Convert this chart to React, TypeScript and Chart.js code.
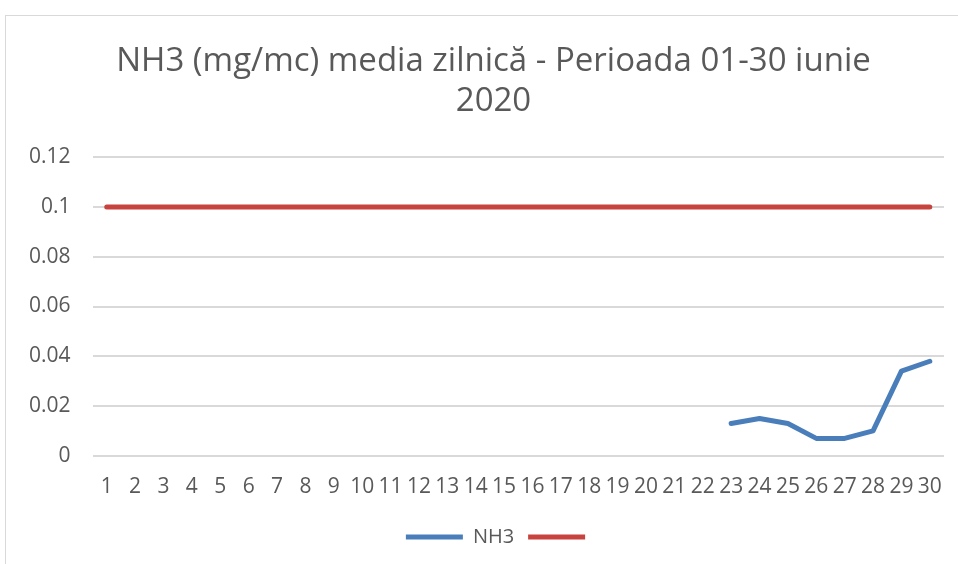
import React, { useEffect, useRef } from "react";
import { Chart, registerables } from "chart.js";

Chart.register(...registerables);

const days: string[] = Array.from({ length: 30 }, (_, i) => String(i + 1));
const nh3Values: (number | null)[] = [
  null, null, null, null, null, null, null, null, null, null,
  null, null, null, null, null, null, null, null, null, null,
  null, null, 0.013, 0.015, 0.013, 0.007, 0.007, 0.010, 0.034, 0.038,
];
const limitValues: number[] = [
  0.1, 0.1, 0.1, 0.1, 0.1, 0.1, 0.1, 0.1, 0.1, 0.1,
  0.1, 0.1, 0.1, 0.1, 0.1, 0.1, 0.1, 0.1, 0.1, 0.1,
  0.1, 0.1, 0.1, 0.1, 0.1, 0.1, 0.1, 0.1, 0.1, 0.1,
];
const titleLines: string[] = ["NH3 (mg/mc) media zilnică - Perioada 01-30 iunie", "2020"];
const seriesLabels: string[] = ["NH3", ""];

// Shift title and legend horizontally (the original chart frame is wider than the view)
const shiftPlugin = {
  id: "shiftBoxes",
  afterLayout(chart: any) {
    if (chart.titleBlock) chart.titleBlock.left += 36;
    if (chart.legend) chart.legend.left += 50;
  },
};

export default function App() {
  const ref = useRef<HTMLCanvasElement | null>(null);

  useEffect(() => {
    if (!ref.current) return;
    const chart = new Chart(ref.current, {
      type: "line",
      data: {
        labels: days,
        datasets: [
          {
            label: seriesLabels[0],
            data: nh3Values,
            borderColor: "#4A7EBB",
            backgroundColor: "#4A7EBB",
            borderWidth: 5,
            pointRadius: 0,
            pointStyle: "line",
            tension: 0,
            borderCapStyle: "round",
            borderJoinStyle: "round",
          },
          {
            label: seriesLabels[1],
            data: limitValues,
            borderColor: "#C8433E",
            backgroundColor: "#C8433E",
            borderWidth: 5,
            pointRadius: 0,
            pointStyle: "line",
            borderCapStyle: "round",
          },
        ],
      },
      plugins: [shiftPlugin],
      options: {
        animation: false,
        responsive: false,
        layout: { padding: { left: 7, right: 14, top: 0, bottom: 7 } },
        plugins: {
          title: {
            display: true,
            text: titleLines,
            color: "#595959",
            font: { family: "Open Sans", size: 33, weight: "normal", lineHeight: 1.2 },
            padding: { top: 42, bottom: 36 },
          },
          legend: {
            position: "bottom",
            labels: {
              usePointStyle: true,
              pointStyleWidth: 57,
              color: "#595959",
              font: { family: "Open Sans", size: 20 },
              padding: 14,
            },
          },
          tooltip: { enabled: false },
        },
        scales: {
          x: {
            offset: true,
            grid: { display: false },
            border: { display: false },
            ticks: {
              color: "#595959",
              font: { family: "Open Sans", size: 21 },
              maxRotation: 0,
              autoSkip: false,
              padding: 10.5,
            },
            afterFit: (scale: any) => {
              scale.height += 3;
            },
          },
          y: {
            min: 0,
            max: 0.12,
            ticks: {
              stepSize: 0.02,
              color: "#595959",
              font: { family: "Open Sans", size: 21 },
              padding: 22,
              callback: (v: any) => String(Math.round(Number(v) * 100) / 100),
            },
            grid: { color: "#D9D9D9", lineWidth: 2, drawTicks: false },
            border: { display: false },
          },
        },
      },
    });
    return () => chart.destroy();
  }, []);

  return (
    <div style={{ position: "fixed", left: 0, top: 0, width: 958, height: 564, background: "#fff" }}>
      <div
        style={{
          position: "absolute",
          left: 5,
          top: 15,
          width: 960,
          height: 560,
          border: "1.5px solid #D9D9D9",
          boxSizing: "border-box",
        }}
      />
      <canvas ref={ref} width={958} height={564} style={{ position: "absolute", left: 0, top: 0 }} />
    </div>
  );
}
